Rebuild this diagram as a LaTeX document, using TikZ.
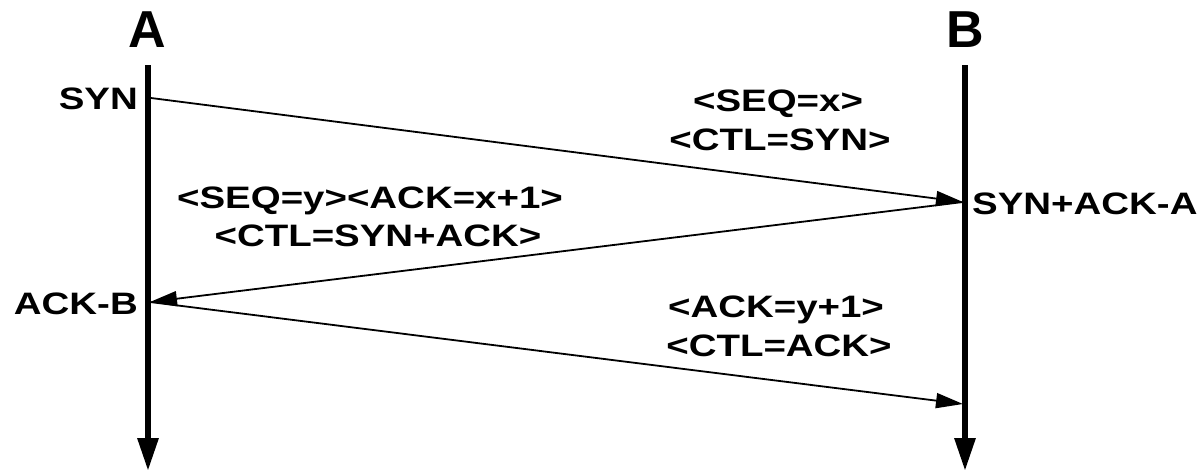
\documentclass[tikz,border=0pt]{standalone}
\usepackage{fontspec}
\setmainfont{Liberation Sans}
\newfontfamily\msgfont{Liberation Sans}[FakeStretch=1.24]
\newfontfamily\bigfont{Liberation Sans}[FakeStretch=1.0]
\usetikzlibrary{arrows.meta}
\begin{document}
\begin{tikzpicture}[x=1pt,y=-1pt,
  lbl/.style={inner sep=0pt,font=\msgfont\bfseries\fontsize{31}{31}\selectfont},
  head/.style={inner sep=0pt,font=\bigfont\bfseries\fontsize{52}{52}\selectfont},
  life/.style={line width=6pt,-{Triangle[length=33pt,width=20pt]}},
  msgline/.style={line width=1.8pt,-{Triangle[length=27pt,width=15pt]}}]
\useasboundingbox (0,0) rectangle (1201,472);
% lifelines
\coordinate (aTop) at (148,65);
\coordinate (aBot) at (148,471);
\coordinate (bTop) at (965,65);
\coordinate (bBot) at (965,471);
\draw[life] (aTop) -- (aBot);
\draw[life] (bTop) -- (bBot);
\node[head,anchor=base] (hA) at (147,47) {A};
\node[head,anchor=base] (hB) at (965,47) {B};
% message endpoints
\coordinate (a1) at (151,98);
\coordinate (b1) at (963,202);
\coordinate (a2) at (150,302);
\coordinate (b2) at (963,404);
\draw[msgline] (a1) -- (b1);
\draw[msgline] (b1) -- (a2);
\draw[msgline] (a2) -- (b2);
% labels
\node[lbl,anchor=base east] (syn) at (138,109) {SYN};
\node[lbl,anchor=base west] (synacka) at (972,214) {SYN+ACK-A};
\node[lbl,anchor=base east] (ackb) at (138,314) {ACK-B};
\node[lbl,anchor=base] (m1a) at (778,111) {<SEQ=x>};
\node[lbl,anchor=base] (m1b) at (780,150) {<CTL=SYN>};
\node[lbl,anchor=base] (m2a) at (370,208) {<SEQ=y><ACK=x+1>};
\node[lbl,anchor=base] (m2b) at (378,246) {<CTL=SYN+ACK>};
\node[lbl,anchor=base] (m3a) at (776,317) {<ACK=y+1>};
\node[lbl,anchor=base] (m3b) at (779,356) {<CTL=ACK>};
\end{tikzpicture}
\end{document}
